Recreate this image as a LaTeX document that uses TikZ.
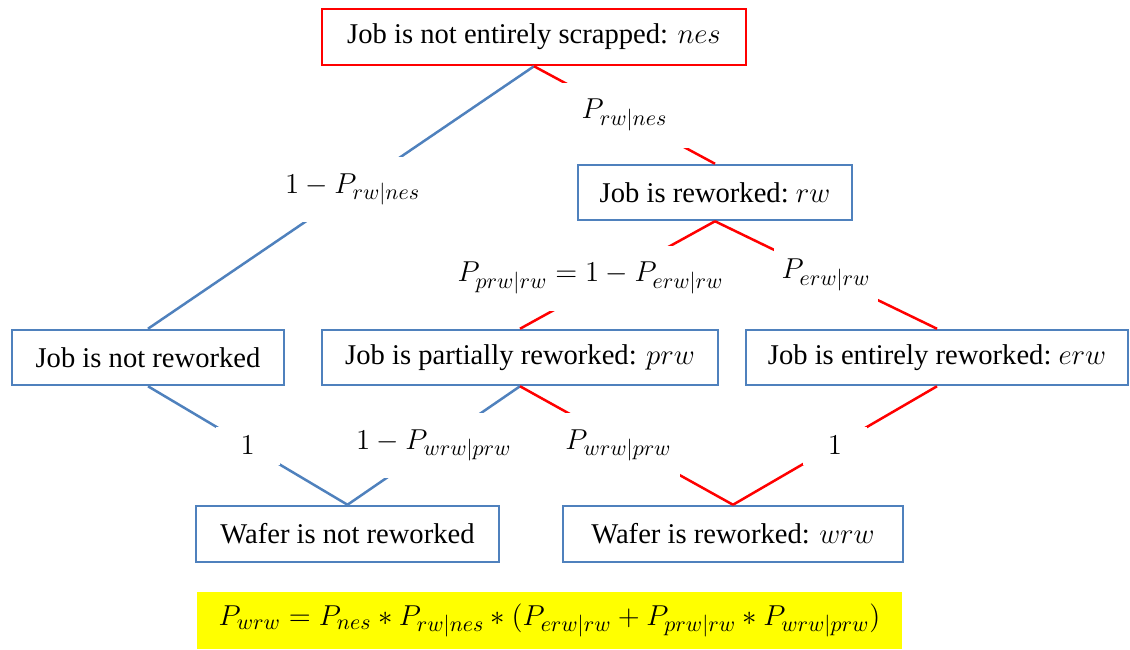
\documentclass[tikz,border=0pt]{standalone}
\usepackage{fontspec}
\setmainfont{Liberation Serif}
\DeclareMathSizes{14.3}{14.3}{10.8}{8}
\definecolor{boxblue}{HTML}{4F81BD}
\definecolor{hlyellow}{HTML}{FFFF00}
\tikzset{
  txt/.style={font=\fontsize{14.3}{17}\selectfont},
  box/.style={txt, draw=boxblue, line width=1.25pt, inner sep=0pt, minimum height=27.5pt},
  redbox/.style={box, draw=red},
  bl/.style={draw=boxblue, line width=1.25pt},
  rd/.style={draw=red, line width=1.25pt},
  lbl/.style={txt, fill=white, inner xsep=4pt, inner ysep=0pt, minimum height=32.5pt},
  one/.style={txt, fill=white, inner sep=0pt, minimum height=19pt, minimum width=32pt},
}
\begin{document}
\begin{tikzpicture}[x=0.5pt, y=-0.5pt]
  \useasboundingbox (0,0) rectangle (1130,649);

  % outcome boxes
  \node[redbox, minimum width=212pt, minimum height=28pt] (nes) at (534,37) {Job is not entirely scrapped: $nes$};
  \node[box, minimum width=137pt] (rw) at (715,192.5) {Job is reworked:\ $rw$};
  \node[box, minimum width=136pt] (notrw) at (148,357.5) {Job is not reworked};
  \node[box, minimum width=198pt] (prw) at (520,357.5) {Job is partially reworked: $prw$};
  \node[box, minimum width=191pt] (erw) at (937,357.5) {Job is entirely reworked:\ $erw$};
  \node[box, minimum width=151.5pt, minimum height=28pt] (wnot) at (347.5,534) {Wafer is not reworked};
  \node[box, minimum width=170pt, minimum height=28pt] (wrw) at (733,534) {Wafer is reworked: $wrw$};

  % overall probability
  \node[txt, fill=hlyellow, inner sep=0pt, minimum width=352.5pt, minimum height=28.5pt] (total) at (549.5,620.5)
    {$P_{wrw} = P_{nes} \ast P_{rw|nes} \ast (P_{erw|rw} + P_{prw|rw} \ast P_{wrw|prw})$};

  % branches with their probabilities
  \draw[bl] (nes.south) -- (notrw.north) node[lbl, pos=0.47] {$1 - P_{rw|nes}$};
  \draw[rd] (nes.south) -- (rw.north) node[lbl, pos=0.5, minimum width=65pt] {$P_{rw|nes}$};
  \draw[rd] (rw.south) -- (prw.north) node[lbl, pos=0.5, xshift=-13.5pt, yshift=-1.5pt] {$P_{prw|rw} = 1 - P_{erw|rw}$};
  \draw[rd] (rw.south) -- (erw.north) node[lbl, pos=0.5] {$P_{erw|rw}$};
  \draw[bl] (notrw.south) -- (wnot.north) node[one, pos=0.5] {$1$};
  \draw[bl] (prw.south) -- (wnot.north) node[lbl, pos=0.5] {$1 - P_{wrw|prw}$};
  \draw[rd] (prw.south) -- (wrw.north) node[lbl, pos=0.5, xshift=-4pt] {$P_{wrw|prw}$};
  \draw[rd] (erw.south) -- (wrw.north) node[one, pos=0.5] {$1$};
\end{tikzpicture}
\end{document}
